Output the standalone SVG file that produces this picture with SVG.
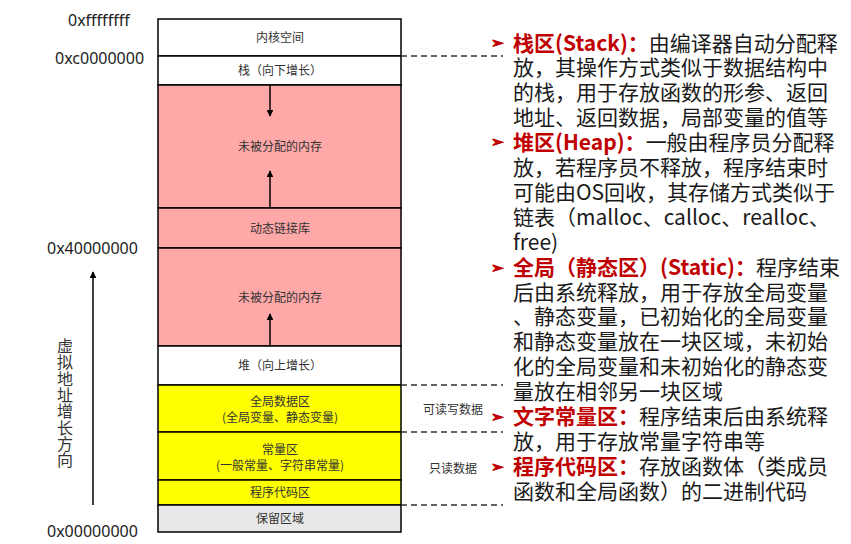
<svg xmlns="http://www.w3.org/2000/svg" width="851" height="544" viewBox="0 0 851 544">
<style>
.box{stroke:#000;stroke-width:1.5}
.w{fill:#fff}.p{fill:#ffa8a8}.y{fill:#ffff00}.g{fill:#e8e8e8}
.bt{font-family:"Noto Sans CJK SC",sans-serif;font-size:12px;fill:#333;text-anchor:middle}
.addr{font-family:"Noto Sans","Liberation Sans",sans-serif;font-size:16px;fill:#222}
.side{font-family:"Noto Sans CJK SC",sans-serif;font-size:12px;fill:#333;text-anchor:middle}
.vt{font-family:"Noto Sans CJK SC",sans-serif;font-size:16px;fill:#333;writing-mode:vertical-rl;text-orientation:upright;letter-spacing:0.3px}
.desc{font-family:"Noto Sans CJK SC",sans-serif;font-size:21px;fill:#1a1a1a}
.hd{font-weight:bold;fill:#c00000}
.bul{font-family:"DejaVu Sans",sans-serif;font-size:15px;fill:#c00000;stroke:#c00000;stroke-width:1.1}
.dash{stroke:#333;stroke-width:1.5;stroke-dasharray:6,4;fill:none}
.arr{stroke:#000;stroke-width:1.5;fill:none}
</style>
<defs>
<marker id="ah" viewBox="0 0 10 10" refX="9" refY="5" markerWidth="4.5" markerHeight="4.5" orient="auto" markerUnits="strokeWidth">
<path d="M0,0 L10,5 L0,10 z" fill="#000"/>
</marker>
</defs>
<rect width="851" height="544" fill="#fff"/>

<g id="addresses">
<text class="addr" x="68" y="26">0xffffffff</text>
<text class="addr" x="55" y="64">0xc0000000</text>
<text class="addr" x="47" y="254">0x40000000</text>
<text class="addr" x="47" y="537">0x00000000</text>
</g>

<g id="node-kernel"><rect class="box w" x="158" y="19" width="243" height="37"/><text class="bt" x="280" y="42">内核空间</text></g>
<g id="node-stack"><rect class="box w" x="158" y="56" width="243" height="29"/><text class="bt" x="280" y="75">栈（向下增长）</text></g>
<g id="node-free1"><rect class="box p" x="158" y="85" width="243" height="123"/><text class="bt" x="280" y="151">未被分配的内存</text></g>
<g id="node-dll"><rect class="box p" x="158" y="208" width="243" height="40"/><text class="bt" x="280" y="233">动态链接库</text></g>
<g id="node-free2"><rect class="box p" x="158" y="248" width="243" height="98"/><text class="bt" x="280" y="302">未被分配的内存</text></g>
<g id="node-heap"><rect class="box w" x="158" y="346" width="243" height="39"/><text class="bt" x="280" y="370">堆（向上增长）</text></g>
<g id="node-global"><rect class="box y" x="158" y="385" width="243" height="47"/><text class="bt" x="280" y="406">全局数据区</text><text class="bt" x="280" y="422">(全局变量、静态变量)</text></g>
<g id="node-const"><rect class="box y" x="158" y="432" width="243" height="48"/><text class="bt" x="280" y="454">常量区</text><text class="bt" x="280" y="470">(一般常量、字符串常量)</text></g>
<g id="node-code"><rect class="box y" x="158" y="480" width="243" height="25"/><text class="bt" x="280" y="497">程序代码区</text></g>
<g id="node-reserved"><rect class="box g" x="158" y="505" width="243" height="27"/><text class="bt" x="280" y="523">保留区域</text></g>

<g id="connectors">
<line class="arr" x1="270" y1="85" x2="270" y2="116" marker-end="url(#ah)"/>
<line class="arr" x1="270" y1="208" x2="270" y2="171" marker-end="url(#ah)"/>
<line class="arr" x1="270" y1="346" x2="270" y2="314" marker-end="url(#ah)"/>
<line class="arr" x1="93" y1="505" x2="93" y2="272" marker-end="url(#ah)"/>
<line class="dash" x1="401" y1="56" x2="503" y2="56"/>
<line class="dash" x1="401" y1="385" x2="503" y2="385"/>
<line class="dash" x1="401" y1="432" x2="503" y2="432"/>
<line class="dash" x1="401" y1="505" x2="503" y2="505"/>
</g>

<g id="axis-label">
<text class="vt" x="65" y="338">虚拟地址增长方向</text>
</g>

<g id="side-labels">
<text class="side" x="453" y="414">可读写数据</text>
<text class="side" x="453" y="473">只读数据</text>
</g>

<g id="description">
<text class="bul" x="491" y="48">➢</text>
<text class="bul" x="491" y="147">➢</text>
<text class="bul" x="491" y="273">➢</text>
<text class="bul" x="491" y="422">➢</text>
<text class="bul" x="491" y="472">➢</text>
<text class="desc" x="513" y="50.5"><tspan class="hd">栈区(Stack)：</tspan>由编译器自动分配释</text>
<text class="desc" x="513" y="75.4">放，其操作方式类似于数据结构中</text>
<text class="desc" x="513" y="100.3">的栈，用于存放函数的形参、返回</text>
<text class="desc" x="513" y="125.2">地址、返回数据，局部变量的值等</text>
<text class="desc" x="513" y="150.1"><tspan class="hd">堆区(Heap)：</tspan>一般由程序员分配释</text>
<text class="desc" x="513" y="175">放，若程序员不释放，程序结束时</text>
<text class="desc" x="513" y="199.9">可能由OS回收，其存储方式类似于</text>
<text class="desc" x="513" y="224.8">链表（malloc、calloc、realloc、</text>
<text class="desc" x="513" y="249.7">free)</text>
<text class="desc" x="513" y="274.6"><tspan class="hd">全局（静态区）(Static)：</tspan>程序结束</text>
<text class="desc" x="513" y="299.5">后由系统释放，用于存放全局变量</text>
<text class="desc" x="513" y="324.4">、静态变量，已初始化的全局变量</text>
<text class="desc" x="513" y="349.3">和静态变量放在一块区域，未初始</text>
<text class="desc" x="513" y="374.2">化的全局变量和未初始化的静态变</text>
<text class="desc" x="513" y="399.1">量放在相邻另一块区域</text>
<text class="desc" x="513" y="424"><tspan class="hd">文字常量区：</tspan>程序结束后由系统释</text>
<text class="desc" x="513" y="448.9">放，用于存放常量字符串等</text>
<text class="desc" x="513" y="473.8"><tspan class="hd">程序代码区：</tspan>存放函数体（类成员</text>
<text class="desc" x="513" y="498.7">函数和全局函数）的二进制代码</text>
</g>
</svg>
